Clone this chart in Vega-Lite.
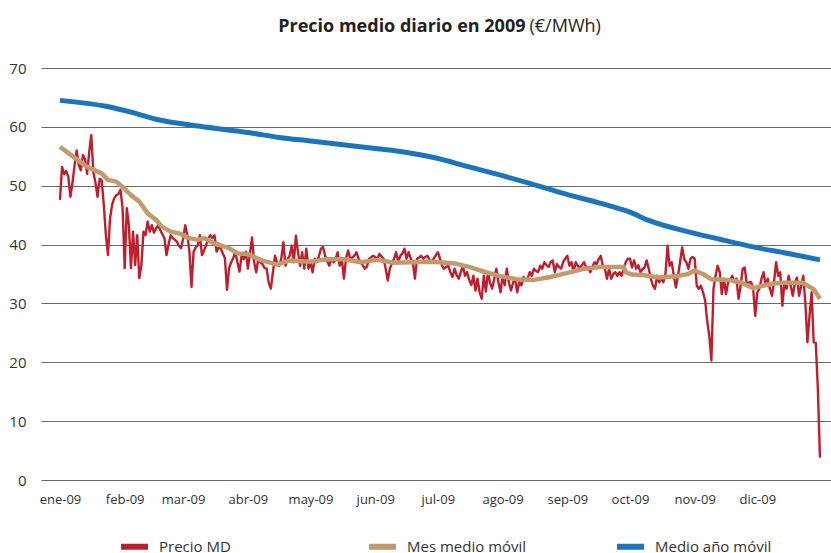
{
  "$schema": "https://vega.github.io/schema/vega-lite/v6.json",
  "width": 790,
  "height": 412,
  "autosize": {"type": "none"},
  "padding": {"left": 41, "top": 68, "right": 0, "bottom": 73},
  "background": "white",
  "config": {
    "view": {"stroke": null},
    "font": "Open Sans"
  },
  "datasets": {
    "precio": [
      {"f":"2009-01-01","v":47.6},{"f":"2009-01-02","v":53.2},{"f":"2009-01-03","v":52.0},{"f":"2009-01-04","v":52.5},{"f":"2009-01-05","v":51.5},{"f":"2009-01-06","v":48.1},{"f":"2009-01-07","v":50.5},{"f":"2009-01-08","v":53.5},{"f":"2009-01-09","v":56.0},{"f":"2009-01-10","v":53.5},{"f":"2009-01-11","v":52.6},{"f":"2009-01-12","v":55.2},{"f":"2009-01-13","v":54.5},{"f":"2009-01-14","v":52.0},{"f":"2009-01-15","v":55.7},{"f":"2009-01-16","v":58.6},{"f":"2009-01-17","v":52.3},{"f":"2009-01-18","v":50.5},{"f":"2009-01-19","v":48.1},{"f":"2009-01-20","v":51.2},{"f":"2009-01-21","v":50.9},{"f":"2009-01-22","v":46.7},{"f":"2009-01-23","v":41.6},{"f":"2009-01-24","v":38.2},{"f":"2009-01-25","v":44.5},{"f":"2009-01-26","v":46.8},{"f":"2009-01-27","v":47.9},{"f":"2009-01-28","v":48.4},{"f":"2009-01-29","v":48.6},{"f":"2009-01-30","v":49.3},{"f":"2009-01-31","v":46.2},
      {"f":"2009-02-01","v":36.0},{"f":"2009-02-02","v":46.2},{"f":"2009-02-03","v":43.3},{"f":"2009-02-04","v":36.0},{"f":"2009-02-05","v":42.2},{"f":"2009-02-06","v":36.5},{"f":"2009-02-07","v":41.6},{"f":"2009-02-08","v":34.3},{"f":"2009-02-09","v":36.5},{"f":"2009-02-10","v":42.2},{"f":"2009-02-11","v":41.6},{"f":"2009-02-12","v":43.9},{"f":"2009-02-13","v":42.2},{"f":"2009-02-14","v":43.3},{"f":"2009-02-15","v":42.0},{"f":"2009-02-16","v":42.7},{"f":"2009-02-17","v":43.3},{"f":"2009-02-18","v":42.5},{"f":"2009-02-19","v":41.8},{"f":"2009-02-20","v":41.1},{"f":"2009-02-21","v":38.2},{"f":"2009-02-22","v":40.0},{"f":"2009-02-23","v":41.6},{"f":"2009-02-24","v":41.1},{"f":"2009-02-25","v":40.8},{"f":"2009-02-26","v":40.5},{"f":"2009-02-27","v":39.8},{"f":"2009-02-28","v":39.4},
      {"f":"2009-03-01","v":41.0},{"f":"2009-03-02","v":43.3},{"f":"2009-03-03","v":41.6},{"f":"2009-03-04","v":38.8},{"f":"2009-03-05","v":32.8},{"f":"2009-03-06","v":38.8},{"f":"2009-03-07","v":39.5},{"f":"2009-03-08","v":39.9},{"f":"2009-03-09","v":41.6},{"f":"2009-03-10","v":38.2},{"f":"2009-03-11","v":39.0},{"f":"2009-03-12","v":39.9},{"f":"2009-03-13","v":41.0},{"f":"2009-03-14","v":41.6},{"f":"2009-03-15","v":41.1},{"f":"2009-03-16","v":41.6},{"f":"2009-03-17","v":38.8},{"f":"2009-03-18","v":39.5},{"f":"2009-03-19","v":39.4},{"f":"2009-03-20","v":38.5},{"f":"2009-03-21","v":37.7},{"f":"2009-03-22","v":32.3},{"f":"2009-03-23","v":36.0},{"f":"2009-03-24","v":37.0},{"f":"2009-03-25","v":37.7},{"f":"2009-03-26","v":38.8},{"f":"2009-03-27","v":37.0},{"f":"2009-03-28","v":35.4},{"f":"2009-03-29","v":38.2},{"f":"2009-03-30","v":37.5},{"f":"2009-03-31","v":38.8},
      {"f":"2009-04-01","v":35.9},{"f":"2009-04-02","v":38.5},{"f":"2009-04-03","v":41.2},{"f":"2009-04-04","v":37.0},{"f":"2009-04-05","v":35.3},{"f":"2009-04-06","v":37.6},{"f":"2009-04-07","v":37.0},{"f":"2009-04-08","v":36.7},{"f":"2009-04-09","v":36.0},{"f":"2009-04-10","v":35.9},{"f":"2009-04-11","v":33.5},{"f":"2009-04-12","v":32.5},{"f":"2009-04-13","v":35.3},{"f":"2009-04-14","v":38.1},{"f":"2009-04-15","v":36.8},{"f":"2009-04-16","v":36.4},{"f":"2009-04-17","v":37.6},{"f":"2009-04-18","v":40.4},{"f":"2009-04-19","v":36.4},{"f":"2009-04-20","v":37.5},{"f":"2009-04-21","v":38.1},{"f":"2009-04-22","v":39.8},{"f":"2009-04-23","v":37.0},{"f":"2009-04-24","v":41.5},{"f":"2009-04-25","v":38.7},{"f":"2009-04-26","v":36.4},{"f":"2009-04-27","v":38.7},{"f":"2009-04-28","v":35.9},{"f":"2009-04-29","v":39.3},{"f":"2009-04-30","v":35.9},
      {"f":"2009-05-01","v":37.0},{"f":"2009-05-02","v":35.3},{"f":"2009-05-03","v":37.6},{"f":"2009-05-04","v":37.0},{"f":"2009-05-05","v":38.0},{"f":"2009-05-06","v":39.3},{"f":"2009-05-07","v":39.6},{"f":"2009-05-08","v":38.1},{"f":"2009-05-09","v":37.2},{"f":"2009-05-10","v":36.4},{"f":"2009-05-11","v":37.6},{"f":"2009-05-12","v":37.0},{"f":"2009-05-13","v":37.5},{"f":"2009-05-14","v":38.7},{"f":"2009-05-15","v":36.4},{"f":"2009-05-16","v":37.6},{"f":"2009-05-17","v":34.2},{"f":"2009-05-18","v":37.6},{"f":"2009-05-19","v":39.0},{"f":"2009-05-20","v":37.6},{"f":"2009-05-21","v":37.8},{"f":"2009-05-22","v":38.1},{"f":"2009-05-23","v":38.7},{"f":"2009-05-24","v":37.6},{"f":"2009-05-25","v":37.0},{"f":"2009-05-26","v":36.5},{"f":"2009-05-27","v":35.9},{"f":"2009-05-28","v":36.2},{"f":"2009-05-29","v":37.6},{"f":"2009-05-30","v":37.8},{"f":"2009-05-31","v":38.1},
      {"f":"2009-06-01","v":37.9},{"f":"2009-06-02","v":37.5},{"f":"2009-06-03","v":38.4},{"f":"2009-06-04","v":38.0},{"f":"2009-06-05","v":37.6},{"f":"2009-06-06","v":35.9},{"f":"2009-06-07","v":33.9},{"f":"2009-06-08","v":35.9},{"f":"2009-06-09","v":36.8},{"f":"2009-06-10","v":37.6},{"f":"2009-06-11","v":38.7},{"f":"2009-06-12","v":37.0},{"f":"2009-06-13","v":38.1},{"f":"2009-06-14","v":38.5},{"f":"2009-06-15","v":39.3},{"f":"2009-06-16","v":37.6},{"f":"2009-06-17","v":38.7},{"f":"2009-06-18","v":37.6},{"f":"2009-06-19","v":37.0},{"f":"2009-06-20","v":34.2},{"f":"2009-06-21","v":37.6},{"f":"2009-06-22","v":37.8},{"f":"2009-06-23","v":38.1},{"f":"2009-06-24","v":37.6},{"f":"2009-06-25","v":37.9},{"f":"2009-06-26","v":38.1},{"f":"2009-06-27","v":37.4},{"f":"2009-06-28","v":37.0},{"f":"2009-06-29","v":37.6},{"f":"2009-06-30","v":38.2},
      {"f":"2009-07-01","v":38.7},{"f":"2009-07-02","v":37.6},{"f":"2009-07-03","v":36.4},{"f":"2009-07-04","v":35.9},{"f":"2009-07-05","v":36.2},{"f":"2009-07-06","v":36.4},{"f":"2009-07-07","v":35.3},{"f":"2009-07-08","v":34.5},{"f":"2009-07-09","v":35.9},{"f":"2009-07-10","v":34.8},{"f":"2009-07-11","v":34.2},{"f":"2009-07-12","v":35.3},{"f":"2009-07-13","v":36.4},{"f":"2009-07-14","v":34.7},{"f":"2009-07-15","v":35.3},{"f":"2009-07-16","v":34.0},{"f":"2009-07-17","v":33.1},{"f":"2009-07-18","v":34.7},{"f":"2009-07-19","v":32.2},{"f":"2009-07-20","v":34.2},{"f":"2009-07-21","v":31.9},{"f":"2009-07-22","v":30.8},{"f":"2009-07-23","v":34.7},{"f":"2009-07-24","v":32.0},{"f":"2009-07-25","v":35.3},{"f":"2009-07-26","v":33.5},{"f":"2009-07-27","v":32.5},{"f":"2009-07-28","v":34.2},{"f":"2009-07-29","v":35.9},{"f":"2009-07-30","v":33.6},{"f":"2009-07-31","v":31.9},
      {"f":"2009-08-01","v":34.7},{"f":"2009-08-02","v":33.1},{"f":"2009-08-03","v":35.9},{"f":"2009-08-04","v":33.6},{"f":"2009-08-05","v":32.2},{"f":"2009-08-06","v":33.5},{"f":"2009-08-07","v":34.2},{"f":"2009-08-08","v":31.9},{"f":"2009-08-09","v":33.6},{"f":"2009-08-10","v":33.1},{"f":"2009-08-11","v":34.5},{"f":"2009-08-12","v":34.0},{"f":"2009-08-13","v":34.2},{"f":"2009-08-14","v":35.3},{"f":"2009-08-15","v":34.7},{"f":"2009-08-16","v":35.9},{"f":"2009-08-17","v":35.5},{"f":"2009-08-18","v":35.3},{"f":"2009-08-19","v":36.4},{"f":"2009-08-20","v":35.9},{"f":"2009-08-21","v":37.0},{"f":"2009-08-22","v":36.5},{"f":"2009-08-23","v":36.2},{"f":"2009-08-24","v":37.0},{"f":"2009-08-25","v":37.3},{"f":"2009-08-26","v":35.3},{"f":"2009-08-27","v":36.7},{"f":"2009-08-28","v":36.2},{"f":"2009-08-29","v":35.9},{"f":"2009-08-30","v":37.0},{"f":"2009-08-31","v":37.6},
      {"f":"2009-09-01","v":38.1},{"f":"2009-09-02","v":36.4},{"f":"2009-09-03","v":37.0},{"f":"2009-09-04","v":35.3},{"f":"2009-09-05","v":37.0},{"f":"2009-09-06","v":36.4},{"f":"2009-09-07","v":35.9},{"f":"2009-09-08","v":36.5},{"f":"2009-09-09","v":37.0},{"f":"2009-09-10","v":36.2},{"f":"2009-09-11","v":35.9},{"f":"2009-09-12","v":35.3},{"f":"2009-09-13","v":36.2},{"f":"2009-09-14","v":37.0},{"f":"2009-09-15","v":36.7},{"f":"2009-09-16","v":37.5},{"f":"2009-09-17","v":38.1},{"f":"2009-09-18","v":36.4},{"f":"2009-09-19","v":35.9},{"f":"2009-09-20","v":34.2},{"f":"2009-09-21","v":35.9},{"f":"2009-09-22","v":34.2},{"f":"2009-09-23","v":35.0},{"f":"2009-09-24","v":35.3},{"f":"2009-09-25","v":34.7},{"f":"2009-09-26","v":35.3},{"f":"2009-09-27","v":34.7},{"f":"2009-09-28","v":35.9},{"f":"2009-09-29","v":37.0},{"f":"2009-09-30","v":37.6},
      {"f":"2009-10-01","v":37.6},{"f":"2009-10-02","v":36.1},{"f":"2009-10-03","v":37.3},{"f":"2009-10-04","v":35.9},{"f":"2009-10-05","v":36.5},{"f":"2009-10-06","v":35.3},{"f":"2009-10-07","v":35.8},{"f":"2009-10-08","v":36.1},{"f":"2009-10-09","v":37.3},{"f":"2009-10-10","v":35.9},{"f":"2009-10-11","v":34.2},{"f":"2009-10-12","v":33.0},{"f":"2009-10-13","v":32.5},{"f":"2009-10-14","v":34.7},{"f":"2009-10-15","v":33.6},{"f":"2009-10-16","v":34.2},{"f":"2009-10-17","v":33.6},{"f":"2009-10-18","v":35.0},{"f":"2009-10-19","v":39.8},{"f":"2009-10-20","v":36.4},{"f":"2009-10-21","v":37.0},{"f":"2009-10-22","v":34.7},{"f":"2009-10-23","v":32.7},{"f":"2009-10-24","v":34.7},{"f":"2009-10-25","v":37.0},{"f":"2009-10-26","v":39.5},{"f":"2009-10-27","v":37.5},{"f":"2009-10-28","v":37.0},{"f":"2009-10-29","v":35.9},{"f":"2009-10-30","v":37.6},{"f":"2009-10-31","v":37.9},
      {"f":"2009-11-01","v":37.6},{"f":"2009-11-02","v":33.0},{"f":"2009-11-03","v":32.5},{"f":"2009-11-04","v":33.0},{"f":"2009-11-05","v":31.9},{"f":"2009-11-06","v":30.5},{"f":"2009-11-07","v":27.0},{"f":"2009-11-08","v":24.5},{"f":"2009-11-09","v":20.3},{"f":"2009-11-10","v":32.5},{"f":"2009-11-11","v":34.7},{"f":"2009-11-12","v":36.4},{"f":"2009-11-13","v":35.3},{"f":"2009-11-14","v":31.6},{"f":"2009-11-15","v":34.2},{"f":"2009-11-16","v":31.6},{"f":"2009-11-17","v":33.6},{"f":"2009-11-18","v":34.0},{"f":"2009-11-19","v":34.7},{"f":"2009-11-20","v":33.6},{"f":"2009-11-21","v":34.2},{"f":"2009-11-22","v":30.8},{"f":"2009-11-23","v":33.0},{"f":"2009-11-24","v":35.9},{"f":"2009-11-25","v":36.1},{"f":"2009-11-26","v":33.0},{"f":"2009-11-27","v":33.6},{"f":"2009-11-28","v":33.6},{"f":"2009-11-29","v":32.5},{"f":"2009-11-30","v":27.9},
      {"f":"2009-12-01","v":31.9},{"f":"2009-12-02","v":32.5},{"f":"2009-12-03","v":34.2},{"f":"2009-12-04","v":35.3},{"f":"2009-12-05","v":33.0},{"f":"2009-12-06","v":34.2},{"f":"2009-12-07","v":32.5},{"f":"2009-12-08","v":31.3},{"f":"2009-12-09","v":33.6},{"f":"2009-12-10","v":37.0},{"f":"2009-12-11","v":34.7},{"f":"2009-12-12","v":35.3},{"f":"2009-12-13","v":29.6},{"f":"2009-12-14","v":33.6},{"f":"2009-12-15","v":32.5},{"f":"2009-12-16","v":34.7},{"f":"2009-12-17","v":33.0},{"f":"2009-12-18","v":31.3},{"f":"2009-12-19","v":33.6},{"f":"2009-12-20","v":34.4},{"f":"2009-12-21","v":31.3},{"f":"2009-12-22","v":33.0},{"f":"2009-12-23","v":34.7},{"f":"2009-12-24","v":30.2},{"f":"2009-12-25","v":23.4},{"f":"2009-12-26","v":27.9},{"f":"2009-12-27","v":31.9},{"f":"2009-12-28","v":23.4},{"f":"2009-12-29","v":23.3},{"f":"2009-12-30","v":15.5},{"f":"2009-12-31","v":3.8}
    ],
    "mes": [
      {"f":"2009-01-01","v":56.6},{"f":"2009-01-14","v":53.2},{"f":"2009-01-21","v":52.1},{"f":"2009-01-24","v":51.0},{"f":"2009-01-28","v":50.7},{"f":"2009-01-31","v":49.8},{"f":"2009-02-04","v":48.4},{"f":"2009-02-08","v":47.3},{"f":"2009-02-12","v":45.3},{"f":"2009-02-16","v":44.2},{"f":"2009-02-19","v":43.0},{"f":"2009-02-23","v":42.2},{"f":"2009-02-27","v":41.9},{"f":"2009-03-04","v":41.1},{"f":"2009-03-08","v":40.8},{"f":"2009-03-11","v":41.1},{"f":"2009-03-16","v":40.2},{"f":"2009-03-23","v":39.4},{"f":"2009-03-27","v":38.5},{"f":"2009-04-01","v":38.4},{"f":"2009-04-07","v":37.4},{"f":"2009-04-15","v":36.6},{"f":"2009-04-21","v":37.3},{"f":"2009-05-01","v":37.1},{"f":"2009-05-09","v":37.5},{"f":"2009-05-17","v":37.5},{"f":"2009-05-25","v":37.0},{"f":"2009-06-02","v":37.4},{"f":"2009-06-10","v":36.9},{"f":"2009-06-18","v":37.0},{"f":"2009-06-26","v":37.1},{"f":"2009-07-02","v":37.0},{"f":"2009-07-09","v":36.8},{"f":"2009-07-16","v":36.2},{"f":"2009-07-24","v":35.3},{"f":"2009-07-31","v":34.6},{"f":"2009-08-08","v":34.1},{"f":"2009-08-16","v":34.0},{"f":"2009-08-24","v":34.5},{"f":"2009-09-01","v":35.2},{"f":"2009-09-09","v":35.9},{"f":"2009-09-17","v":36.2},{"f":"2009-09-25","v":36.2},{"f":"2009-09-28","v":36.2},{"f":"2009-09-29","v":35.3},{"f":"2009-10-02","v":34.9},{"f":"2009-10-08","v":34.8},{"f":"2009-10-15","v":34.4},{"f":"2009-10-23","v":34.6},{"f":"2009-10-29","v":35.0},{"f":"2009-11-01","v":35.6},{"f":"2009-11-05","v":35.0},{"f":"2009-11-09","v":34.1},{"f":"2009-11-17","v":34.0},{"f":"2009-11-23","v":33.6},{"f":"2009-11-29","v":32.6},{"f":"2009-12-07","v":33.3},{"f":"2009-12-13","v":33.5},{"f":"2009-12-23","v":33.5},{"f":"2009-12-28","v":32.4},{"f":"2009-12-31","v":30.8}
    ],
    "anio": [
      {"f":"2009-01-01","v":64.5},{"f":"2009-01-23","v":63.5},{"f":"2009-02-04","v":62.5},{"f":"2009-02-16","v":61.3},{"f":"2009-03-09","v":60.1},{"f":"2009-04-02","v":59.0},{"f":"2009-04-16","v":58.2},{"f":"2009-05-01","v":57.6},{"f":"2009-05-30","v":56.4},{"f":"2009-06-13","v":55.8},{"f":"2009-06-29","v":54.8},{"f":"2009-07-16","v":53.2},{"f":"2009-07-31","v":51.8},{"f":"2009-08-14","v":50.4},{"f":"2009-08-31","v":48.6},{"f":"2009-09-17","v":47.0},{"f":"2009-10-01","v":45.5},{"f":"2009-10-10","v":44.1},{"f":"2009-10-31","v":42.0},{"f":"2009-11-13","v":40.9},{"f":"2009-11-29","v":39.6},{"f":"2009-12-17","v":38.4},{"f":"2009-12-31","v":37.4}
    ]
  },
  "encoding": {
    "x": {
      "field": "f",
      "type": "temporal",
      "scale": {
        "type": "utc",
        "domain": [
          {"year": 2008, "month": 12, "date": 22, "hours": 22, "utc": true},
          {"year": 2010, "month": 1, "date": 5, "hours": 7, "utc": true}
        ]
      },
      "axis": {
        "values": [
          {"year": 2009, "month": 1, "date": 1, "utc": true},
          {"year": 2009, "month": 2, "date": 1, "utc": true},
          {"year": 2009, "month": 3, "date": 1, "utc": true},
          {"year": 2009, "month": 4, "date": 1, "utc": true},
          {"year": 2009, "month": 5, "date": 1, "utc": true},
          {"year": 2009, "month": 6, "date": 1, "utc": true},
          {"year": 2009, "month": 7, "date": 1, "utc": true},
          {"year": 2009, "month": 8, "date": 1, "utc": true},
          {"year": 2009, "month": 9, "date": 1, "utc": true},
          {"year": 2009, "month": 10, "date": 1, "utc": true},
          {"year": 2009, "month": 11, "date": 1, "utc": true},
          {"year": 2009, "month": 12, "date": 1, "utc": true}
        ],
        "labelExpr": "['ene','feb','mar','abr','may','jun','jul','ago','sep','oct','nov','dic'][utcmonth(datum.value)] + '-09'",
        "grid": false,
        "ticks": false,
        "domain": false,
        "labelPadding": 13,
        "labelFontSize": 13,
        "labelColor": "#333333",
        "labelFlush": false,
        "labelOverlap": false,
        "title": "(€/MWh)",
        "titleFontSize": 18,
        "titleFontWeight": "normal",
        "titleColor": "#231f20",
        "titleAngle": 0,
        "titleAlign": "left",
        "titleBaseline": "alphabetic",
        "titleAnchor": null,
        "titleX": 488,
        "titleY": -448.5
      }
    },
    "y": {
      "field": "v",
      "type": "quantitative",
      "scale": {"domain": [0, 70], "nice": false},
      "axis": {
        "values": [0, 10, 20, 30, 40, 50, 60, 70],
        "grid": true,
        "gridColor": "#6b6b6b",
        "gridWidth": 1.2,
        "ticks": false,
        "domain": false,
        "labelPadding": 15,
        "labelFontSize": 15,
        "labelColor": "#333333",
        "title": "Precio medio diario en 2009",
        "titleFontSize": 18,
        "titleFontWeight": "bold",
        "titleColor": "#231f20",
        "titleAngle": 0,
        "titleAlign": "right",
        "titleBaseline": "alphabetic",
        "titleAnchor": null,
        "titleX": 484,
        "titleY": -36.5
      }
    }
  },
  "layer": [
    {
      "data": {"name": "precio"},
      "mark": {"type": "line", "strokeWidth": 2.4, "strokeJoin": "round"},
      "encoding": {
        "color": {
          "datum": "Precio MD",
          "type": "nominal",
          "scale": {
            "domain": ["Precio MD", "Mes medio móvil", "Medio año móvil"],
            "range": ["#c11e2d", "#c49a6c", "#1c75bc"]
          },
          "legend": {
            "orient": "none",
            "legendX": 77,
            "legendY": 462,
            "padding": 0,
            "direction": "horizontal",
            "columns": 3,
            "gridAlign": "all",
            "columnPadding": 78,
            "title": null,
            "symbolType": "stroke",
            "symbolSize": 729,
            "symbolStrokeWidth": 6,
            "labelOffset": 8,
            "labelFontSize": 15,
            "labelColor": "#333333",
            "labelLimit": 200
          }
        }
      }
    },
    {
      "data": {"name": "mes"},
      "mark": {"type": "line", "strokeWidth": 4.5, "strokeJoin": "round"},
      "encoding": {"color": {"datum": "Mes medio móvil", "type": "nominal"}}
    },
    {
      "data": {"name": "anio"},
      "mark": {"type": "line", "strokeWidth": 5, "strokeJoin": "round", "interpolate": "monotone"},
      "encoding": {"color": {"datum": "Medio año móvil", "type": "nominal"}}
    }
  ]
}
